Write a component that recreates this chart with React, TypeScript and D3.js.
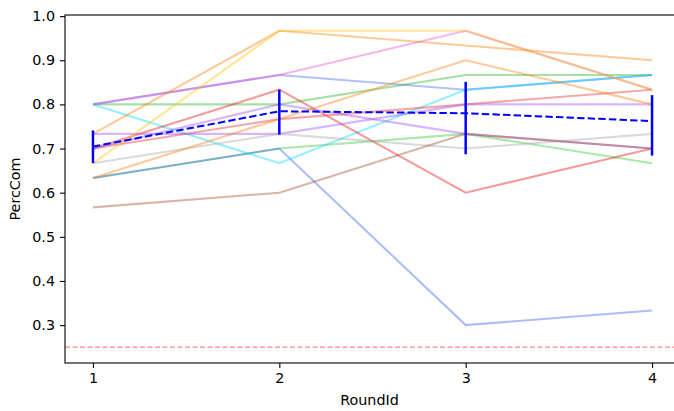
import React, { useRef, useEffect } from "react";
import * as d3 from "d3";

// rounds on the x axis
const rounds = [1, 2, 3, 4];

// one line per participant (PercCom for each round)
const participants = [
  { color: "#2ab42a", values: [0.8, 0.8, 0.8667, 0.8667] },
  { color: "#32c832", values: [0.6333, 0.7, 0.7333, 0.6667] },
  { color: "#3a64f0", values: [0.6333, 0.7, 0.3, 0.3333] },
  { color: "#4a6cf0", values: [0.8, 0.8667, 0.8333, 0.8667] },
  { color: "#e650d2", values: [0.8, 0.8667, 0.9667, 0.8333] },
  { color: "#00d8ff", values: [0.8, 0.6667, 0.8333, 0.8667] },
  { color: "#e81010", values: [0.7, 0.8333, 0.6, 0.7] },
  { color: "#e83030", values: [0.7, 0.7667, 0.8, 0.8333] },
  { color: "#a050f0", values: [0.7333, 0.7333, 0.8, 0.8] },
  { color: "#a050f0", values: [0.7, 0.8, 0.7333, 0.7] },
  { color: "#a8a8a8", values: [0.6667, 0.7333, 0.7, 0.7333] },
  { color: "#ff7f0e", values: [0.7333, 0.9667, 0.9333, 0.9] },
  { color: "#ff7f0e", values: [0.6333, 0.7667, 0.9, 0.8] },
  { color: "#ffc107", values: [0.6667, 0.9667, 0.9667, 0.8333] },
  { color: "#a0522d", values: [0.5667, 0.6, 0.7333, 0.7] },
];

// confidence interval of the mean
const ciLow = [0.667, 0.7316, 0.687, 0.684];
const ciHigh = [0.741, 0.8335, 0.851, 0.821];

const chance = 0.25;
const yTicks = [0.3, 0.4, 0.5, 0.6, 0.7, 0.8, 0.9, 1.0];

export default function App() {
  const ref = useRef<SVGSVGElement>(null);

  useEffect(() => {
    const width = 674;
    const height = 411;
    const left = 65, right = 680, top = 15, bottom = 363;

    const x = d3.scaleLinear().domain([0.85, 4.15]).range([left, right]);
    const y = d3.scaleLinear().domain([0.2142, 1.0025]).range([bottom, top]);

    const svg = d3.select(ref.current).html("")
      .attr("width", width).attr("height", height);

    svg.append("rect").attr("width", width).attr("height", height).attr("fill", "white");

    svg.append("clipPath").attr("id", "plotclip")
      .append("rect").attr("x", left).attr("y", top)
      .attr("width", right - left).attr("height", bottom - top);

    const plot = svg.append("g").attr("clip-path", "url(#plotclip)");

    const line = d3.line<number>()
      .x((d, i) => x(rounds[i]))
      .y((d) => y(d));

    // individual lines
    plot.selectAll(".person")
      .data(participants)
      .enter()
      .append("path")
      .attr("d", (d) => line(d.values))
      .attr("fill", "none")
      .attr("stroke", (d) => d.color)
      .attr("stroke-opacity", 0.42)
      .attr("stroke-width", 2.1);

    // chance level
    plot.append("line")
      .attr("x1", left).attr("x2", right)
      .attr("y1", y(chance)).attr("y2", y(chance))
      .attr("stroke", "#ff5c5c")
      .attr("stroke-opacity", 0.75)
      .attr("stroke-width", 1.3)
      .attr("stroke-dasharray", "5,2.5");

    // mean line
    const means = rounds.map((r, i) => d3.mean(participants, (p) => p.values[i]) as number);
    plot.append("path")
      .attr("d", line(means))
      .attr("fill", "none")
      .attr("stroke", "blue")
      .attr("stroke-width", 2)
      .attr("stroke-dasharray", "7.4,3.2");

    // error bars
    plot.selectAll(".err")
      .data(rounds)
      .enter()
      .append("line")
      .attr("x1", (d) => x(d)).attr("x2", (d) => x(d))
      .attr("y1", (d, i) => y(ciLow[i]))
      .attr("y2", (d, i) => y(ciHigh[i]))
      .attr("stroke", "blue")
      .attr("stroke-width", 2.5);

    // frame
    svg.append("rect")
      .attr("x", left).attr("y", top)
      .attr("width", right - left).attr("height", bottom - top)
      .attr("fill", "none").attr("stroke", "black").attr("stroke-width", 1.1);

    const font = "DejaVu Sans";
    const fs = 14.3;

    // x axis
    const xAxis = svg.append("g")
      .attr("transform", `translate(0, ${bottom})`)
      .call(d3.axisBottom(x).tickValues(rounds).tickFormat(d3.format("d")).tickSize(5).tickPadding(5));
    xAxis.select(".domain").remove();

    // y axis
    const yAxis = svg.append("g")
      .attr("transform", `translate(${left}, 0)`)
      .call(d3.axisLeft(y).tickValues(yTicks).tickFormat(d3.format(".1f")).tickSize(5).tickPadding(5));
    yAxis.select(".domain").remove();

    svg.selectAll(".tick text")
      .attr("font-family", font)
      .attr("font-size", fs)
      .attr("fill", "black");
    svg.selectAll(".tick line").attr("stroke", "black").attr("stroke-width", 1.1);

    svg.append("text")
      .attr("x", (left + right) / 2 - 3)
      .attr("y", 405)
      .attr("text-anchor", "middle")
      .attr("font-family", font)
      .attr("font-size", fs)
      .text("RoundId");

    svg.append("text")
      .attr("transform", `translate(20, ${(top + bottom) / 2}) rotate(-90)`)
      .attr("text-anchor", "middle")
      .attr("font-family", font)
      .attr("font-size", fs)
      .text("PercCom");
  }, []);

  return (
    <div style={{ position: "absolute", left: 0, top: 0 }}>
      <svg ref={ref} style={{ display: "block" }}></svg>
    </div>
  );
}
